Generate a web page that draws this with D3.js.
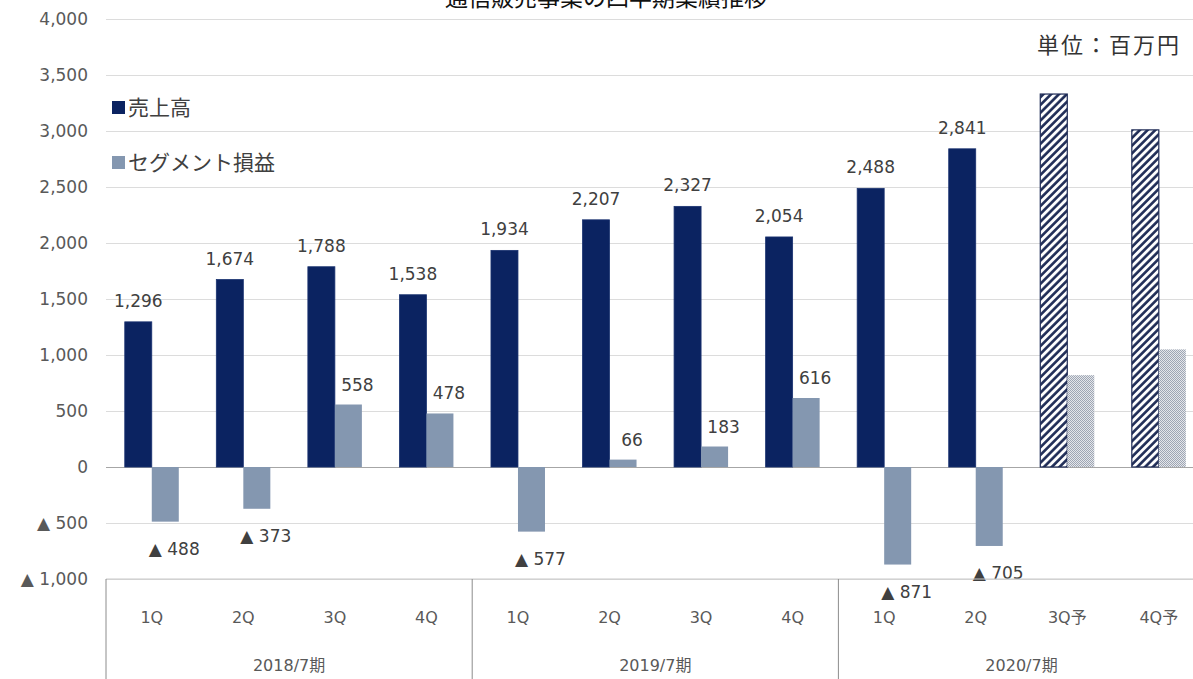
<!DOCTYPE html>
<html>
<head>
<meta charset="utf-8">
<script src="https://cdn.jsdelivr.net/npm/d3@7"></script>
<style>
  body { margin: 0; background: #fff; }
  text { font-family: "DejaVu Sans", "Noto Sans CJK JP", sans-serif; }
  .jp { font-family: "Noto Sans CJK JP", sans-serif; }
</style>
</head>
<body>
<svg id="chart" width="1193" height="679"></svg>
<script>
// quarterly data (百万円)
const categories = ["1Q", "2Q", "3Q", "4Q", "1Q", "2Q", "3Q", "4Q", "1Q", "2Q", "3Q予", "4Q予"];
const periods = ["2018/7期", "2019/7期", "2020/7期"];
const sales = [1296, 1674, 1788, 1538, 1934, 2207, 2327, 2054, 2488, 2841, 3330, 3010];
const segment = [-488, -373, 558, 478, -577, 66, 183, 616, -871, -705, 820, 1050];
const isForecast = [false, false, false, false, false, false, false, false, false, false, true, true];
const yTicks = [-1000, -500, 0, 500, 1000, 1500, 2000, 2500, 3000, 3500, 4000];
const seriesNames = ["売上高", "セグメント損益"];

const svg = d3.select("#chart");
const width = +svg.attr("width");
const height = +svg.attr("height");

const navy = "#0b2361";
const grey = "#8497b0";
const fmt = d3.format(",");
const tickFmt = v => v < 0 ? "▲ " + fmt(-v) : fmt(v);

// scales
const x0 = d3.scaleBand()
  .domain(d3.range(categories.length))
  .range([106, 1204.6]);
const x1 = d3.scaleBand()
  .domain(["sales", "segment"])
  .range([0, x0.bandwidth()])
  .paddingOuter(0.695);
const y = d3.scaleLinear()
  .domain([-1000, 4000])
  .range([579, 19]);

// patterns for forecast bars
const defs = svg.append("defs");
const hatch = defs.append("pattern")
  .attr("id", "hatch")
  .attr("patternUnits", "userSpaceOnUse")
  .attr("width", 5.5).attr("height", 5.5)
  .attr("patternTransform", "rotate(45)");
hatch.append("rect").attr("width", 5.5).attr("height", 5.5).attr("fill", "#fff");
hatch.append("line")
  .attr("x1", 1.4).attr("x2", 1.4).attr("y1", 0).attr("y2", 5.5)
  .attr("stroke", "#1d2a55").attr("stroke-width", 2.6);

const dots = defs.append("pattern")
  .attr("id", "dots")
  .attr("patternUnits", "userSpaceOnUse")
  .attr("width", 2).attr("height", 2);
dots.append("rect").attr("width", 2).attr("height", 2).attr("fill", "#e4e6ea");
dots.append("rect").attr("width", 1).attr("height", 1).attr("fill", "#9ea6b4");
dots.append("rect").attr("x", 1).attr("y", 1).attr("width", 1).attr("height", 1).attr("fill", "#9ea6b4");

// gridlines
svg.append("g")
  .attr("transform", "translate(106,0)")
  .call(d3.axisLeft(y).tickValues(yTicks).tickSize(-(width - 106)).tickFormat(""))
  .call(g => g.select(".domain").remove())
  .selectAll("line")
  .attr("stroke", d => d === 0 ? "#a6a6a6" : "#dcdcdc")
  .attr("stroke-width", 1);

// y tick labels
svg.append("g")
  .attr("transform", "translate(88,0)")
  .call(d3.axisLeft(y).tickValues(yTicks).tickSize(0).tickPadding(0).tickFormat(tickFmt))
  .call(g => g.select(".domain").remove())
  .selectAll("text")
  .attr("fill", "#595959")
  .style("font-size", "17px")
  .style("font-family", "DejaVu Sans, sans-serif");

// bars
const idx = d3.range(categories.length);

svg.append("g").selectAll("rect")
  .data(idx)
  .join("rect")
  .attr("x", i => x0(i) + x1("sales"))
  .attr("y", i => y(sales[i]))
  .attr("width", x1.bandwidth())
  .attr("height", i => y(0) - y(sales[i]))
  .attr("fill", i => isForecast[i] ? "url(#hatch)" : navy)
  .attr("stroke", i => isForecast[i] ? "#1d2a55" : "#1a3270")
  .attr("stroke-width", i => isForecast[i] ? 1.2 : 0.8);

svg.append("g").selectAll("rect")
  .data(idx)
  .join("rect")
  .attr("x", i => x0(i) + x1("segment"))
  .attr("y", i => y(Math.max(segment[i], 0)))
  .attr("width", x1.bandwidth())
  .attr("height", i => Math.abs(y(segment[i]) - y(0)))
  .attr("fill", i => isForecast[i] ? "url(#dots)" : grey);

// data labels
const labels = svg.append("g")
  .attr("fill", "#404040")
  .style("font-size", "17px")
  .attr("text-anchor", "middle");

labels.selectAll("text.sales")
  .data(idx.filter(i => !isForecast[i]))
  .join("text")
  .attr("class", "sales")
  .attr("x", i => x0(i) + x1("sales") + x1.bandwidth() / 2)
  .attr("y", i => y(sales[i]) - 15)
  .text(i => fmt(sales[i]));

labels.selectAll("text.seg")
  .data(idx.filter(i => !isForecast[i]))
  .join("text")
  .attr("class", "seg")
  .attr("x", i => x0(i) + x1("segment") + x1.bandwidth() / 2 + 9)
  .attr("y", i => segment[i] >= 0 ? y(segment[i]) - 14 : y(segment[i]) + 33)
  .text(i => tickFmt(segment[i]));

// category axis
svg.append("line")
  .attr("x1", 106).attr("x2", width)
  .attr("y1", y(-1000)).attr("y2", y(-1000))
  .attr("stroke", "#c8c8c8");

svg.append("g").selectAll("line")
  .data([0, 4, 8])
  .join("line")
  .attr("x1", i => x0(i)).attr("x2", i => x0(i))
  .attr("y1", y(-1000)).attr("y2", height)
  .attr("stroke", "#8c8c8c");

svg.append("g").selectAll("text")
  .data(idx)
  .join("text")
  .attr("x", i => x0(i) + x0.bandwidth() / 2)
  .attr("y", 623)
  .attr("text-anchor", "middle")
  .attr("fill", "#595959")
  .style("font-size", "16px")
  .text(i => categories[i]);

svg.append("g").selectAll("text")
  .data(periods)
  .join("text")
  .attr("x", (d, k) => (x0(k * 4) + x0(k * 4 + 3) + x0.bandwidth()) / 2)
  .attr("y", 671)
  .attr("text-anchor", "middle")
  .attr("fill", "#595959")
  .style("font-size", "16px")
  .text(d => d);

// legend
const legend = svg.append("g");
const legendColors = [navy, grey];
seriesNames.forEach((name, k) => {
  legend.append("rect")
    .attr("x", 112).attr("y", 101 + k * 55)
    .attr("width", 13).attr("height", 13)
    .attr("fill", legendColors[k]);
  legend.append("text")
    .attr("class", "jp")
    .attr("x", 128).attr("y", 115 + k * 55)
    .attr("fill", "#404040")
    .style("font-size", "21px")
    .text(name);
});

// unit and title
svg.append("text")
  .attr("class", "jp")
  .attr("x", 1181).attr("y", 53)
  .attr("text-anchor", "end")
  .attr("fill", "#333")
  .style("font-size", "22px")
  .style("letter-spacing", "2px")
  .text("単位：百万円");

// the title sits partly above the picture's top edge, as in the reference
svg.append("text")
  .attr("class", "jp")
  .attr("x", 606).attr("y", 6)
  .attr("text-anchor", "middle")
  .attr("fill", "#111")
  .style("font-size", "23px")
  .text("通信販売事業の四半期業績推移");
</script>
</body>
</html>
